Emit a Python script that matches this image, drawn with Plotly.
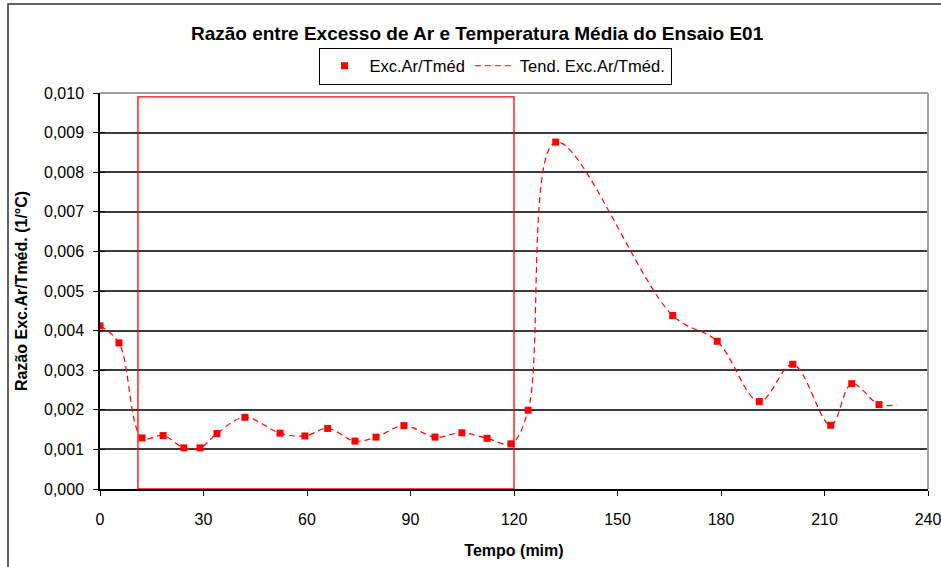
import plotly.graph_objects as go

# Data
tempo = [0, 5.5, 12.2, 18.3, 24.3, 29.0, 33.9, 42.0, 52.2, 59.4, 66.0, 73.9, 80.0,
         88.1, 97.1, 104.9, 112.2, 119.1, 124.1, 132.1, 166.0, 178.9, 191.1,
         200.8, 211.8, 217.9, 225.8]
razao = [0.00412, 0.00369, 0.00129, 0.00135, 0.00104, 0.00104, 0.00140, 0.00181,
         0.00141, 0.00134, 0.00153, 0.00121, 0.00131, 0.00160, 0.00131, 0.00142,
         0.00128, 0.00114, 0.00199, 0.00876, 0.00438, 0.00373, 0.00221, 0.00315,
         0.00161, 0.00266, 0.00213]
tend_tempo = tempo + [231.0]
tend_razao = razao + [0.00213]

x_ticks = [0, 30, 60, 90, 120, 150, 180, 210, 240]
y_ticks = [0.000, 0.001, 0.002, 0.003, 0.004, 0.005, 0.006, 0.007, 0.008, 0.009, 0.010]

# highlighted window
janela_x = [11, 120]
janela_y = [0.0, 0.0099]

FONT = "Liberation Sans, Arial, sans-serif"

fig = go.Figure()
fig.add_trace(go.Scatter(
    x=tempo, y=razao, mode="markers", name="Exc.Ar/Tméd",
    marker=dict(symbol="square", size=7, color="#FF0000"),
))
fig.add_trace(go.Scatter(
    x=tend_tempo, y=tend_razao, mode="lines", name="Tend. Exc.Ar/Tméd.",
    line=dict(color="#FF0000", width=1.2, dash="6px,4px", shape="spline", smoothing=1.0),
))
# invisible helper trace for the inner half of the cross tick marks
fig.add_trace(go.Scatter(x=[None], y=[None], yaxis="y2", showlegend=False, hoverinfo="skip"))

L, R, T, B = 100, 13, 93, 78
W, H = 941, 567
pw, ph = W - L - R, H - T - B

def px_x(px):
    return (px - L) / pw

def px_y(py):
    return (H - B - py) / ph

fig.update_layout(
    width=W, height=H,
    margin=dict(l=L, r=R, t=T, b=B, autoexpand=False),
    paper_bgcolor="white", plot_bgcolor="white",
    separators=",.",
    font=dict(family=FONT, color="black", size=16),
    title=dict(text="<b>Razão entre Excesso de Ar e Temperatura Média do Ensaio E01</b>",
               x=0.507, xanchor="center", y=1 - 33 / H, yanchor="middle",
               font=dict(size=19, family=FONT)),
    showlegend=True,
    legend=dict(orientation="h", x=px_x(495), xanchor="center", y=px_y(66), yanchor="middle",
                bordercolor="black", borderwidth=1, bgcolor="white",
                font=dict(size=16.5, family=FONT), itemwidth=40, tracegroupgap=0),
    xaxis=dict(range=[0, 240], tickvals=x_ticks, ticktext=[str(v) for v in x_ticks],
               showgrid=False, zeroline=False, showline=True, linecolor="black", linewidth=1.5,
               ticks="outside", ticklen=5, tickcolor="black", tickfont=dict(size=16),
               ticklabelstandoff=10, ticklabeloverflow="allow",
               title=dict(text="<b>Tempo (mim)</b>", font=dict(size=16), standoff=18)),
    yaxis=dict(range=[0, 0.010], tickvals=y_ticks, tickformat=".3f",
               showgrid=True, gridcolor="#3a3a3a", gridwidth=1.5, zeroline=False,
               showline=True, linecolor="black", linewidth=1.5,
               ticks="outside", ticklen=5, tickcolor="black", tickfont=dict(size=16),
               ticklabelstandoff=6, ticklabeloverflow="allow",
               title=dict(text="<b>Razão Exc.Ar/Tméd. (1/°C)</b>", font=dict(size=16), standoff=12)),
    yaxis2=dict(range=[0, 0.010], tickvals=y_ticks, overlaying="y", side="left",
                showgrid=False, zeroline=False, showline=False, showticklabels=False,
                ticks="inside", ticklen=5, tickcolor="black"),
    shapes=[
        # highlighted window
        dict(type="rect", xref="x", yref="y", x0=janela_x[0], x1=janela_x[1],
             y0=janela_y[0], y1=janela_y[1], line=dict(color="#FF0000", width=1.3),
             fillcolor="rgba(0,0,0,0)", layer="above"),
        # plot-area border (gray, top/right)
        dict(type="line", xref="paper", yref="paper", x0=0, x1=1, y0=1, y1=1,
             line=dict(color="#a0a0a0", width=2), layer="above"),
        dict(type="line", xref="paper", yref="paper", x0=1, x1=1, y0=0, y1=1,
             line=dict(color="#a0a0a0", width=2), layer="above"),
        # outer chart frame
        dict(type="rect", xref="paper", yref="paper", x0=px_x(8), x1=px_x(960),
             y0=px_y(590), y1=px_y(4), line=dict(color="#303030", width=1.5),
             fillcolor="rgba(0,0,0,0)", layer="below"),
    ],
)

fig.write_html("out.html", config={"displayModeBar": False},
               post_script="document.body.style.margin='0';")
